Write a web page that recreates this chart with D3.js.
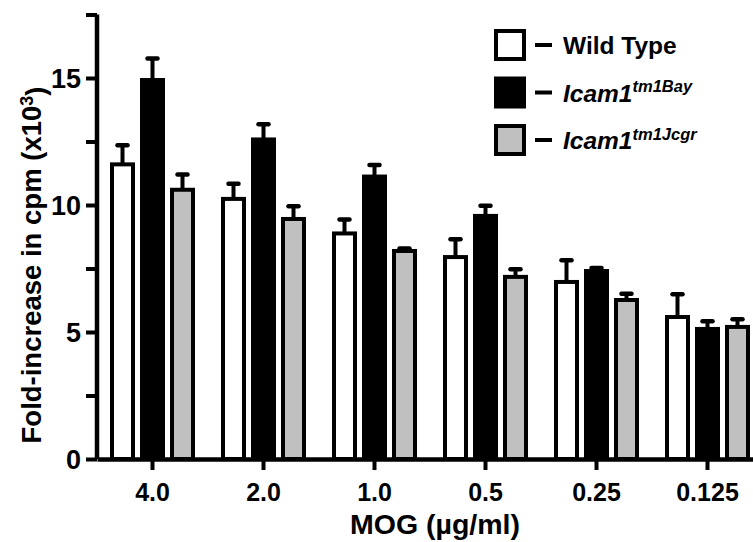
<!DOCTYPE html>
<html>
<head>
<meta charset="utf-8">
<script src="https://cdn.jsdelivr.net/npm/d3@7"></script>
<style>
  body { margin: 0; background: #fff; }
  svg text { font-family: "Liberation Sans", Arial, sans-serif; font-weight: bold; fill: #000; }
</style>
</head>
<body>
<div id="chart"></div>
<script>
// MOG concentration groups (x categories)
const doses = ["4.0", "2.0", "1.0", "0.5", "0.25", "0.125"];
const seriesNames = ["wt", "bay", "jcgr"];
const seriesFill = {wt: "#ffffff", bay: "#000000", jcgr: "#c0c0c0"};

// means (x10^3 cpm)
const wildType   = [11.6, 10.24, 8.88, 7.95, 6.97, 5.59];
const icamBay    = [14.92, 12.58, 11.12, 9.57, 7.4, 5.12];
const icamJcgr   = [10.6, 9.45, 8.19, 7.17, 6.26, 5.2];
// upper error (SEM)
const wildTypeErr = [0.75, 0.6, 0.55, 0.7, 0.85, 0.9];
const icamBayErr  = [0.85, 0.6, 0.45, 0.4, 0.12, 0.3];
const icamJcgrErr = [0.6, 0.5, 0.1, 0.3, 0.25, 0.3];

const yMajorTicks = [0, 5, 10, 15];
const yAllTicks = [0, 2.5, 5, 7.5, 10, 12.5, 15, 17.5];

const W = 753, H = 542;
const margin = {left: 97, top: 14.5, bottom: 83};

const svg = d3.select("#chart").append("svg")
  .attr("width", W).attr("height", H);

// build rows
const rows = doses.map((d, i) => ({
  dose: d,
  vals: [
    {key: "wt", v: wildType[i], e: wildTypeErr[i]},
    {key: "bay", v: icamBay[i], e: icamBayErr[i]},
    {key: "jcgr", v: icamJcgr[i], e: icamJcgrErr[i]}
  ]
}));

const x0 = d3.scaleBand().domain(doses).range([margin.left, margin.left + 666]);
const x1 = d3.scaleBand().domain(seriesNames).range([-40.5, 40.5]).paddingInner(0.3);
const y = d3.scaleLinear().domain([0, 17.5]).range([H - margin.bottom, margin.top]);

// bars
const groups = svg.selectAll(".grp").data(rows).enter().append("g")
  .attr("class", "grp")
  .attr("transform", d => "translate(" + (x0(d.dose) + x0.bandwidth() / 2) + ",0)");

// error bars (upper only) first so bars sit over the stems
groups.selectAll(".err").data(d => d.vals).enter().append("line")
  .attr("x1", d => x1(d.key) + x1.bandwidth() / 2)
  .attr("x2", d => x1(d.key) + x1.bandwidth() / 2)
  .attr("y1", d => y(d.v))
  .attr("y2", d => y(d.v + d.e))
  .attr("stroke", "#000").attr("stroke-width", 4);

groups.selectAll(".cap").data(d => d.vals).enter().append("line")
  .attr("x1", d => x1(d.key) + x1.bandwidth() / 2 - 5)
  .attr("x2", d => x1(d.key) + x1.bandwidth() / 2 + 5)
  .attr("y1", d => y(d.v + d.e))
  .attr("y2", d => y(d.v + d.e))
  .attr("stroke", "#000").attr("stroke-width", 4.5)
  .attr("stroke-linecap", "round");

groups.selectAll(".bar").data(d => d.vals).enter().append("rect")
  .attr("x", d => x1(d.key))
  .attr("width", x1.bandwidth())
  .attr("y", d => y(d.v))
  .attr("height", d => y(0) - y(d.v))
  .attr("fill", d => seriesFill[d.key])
  .attr("stroke", "#000").attr("stroke-width", 4);

// y axis
const yAxis = d3.axisLeft(y).tickValues(yAllTicks).tickSize(11).tickPadding(5)
  .tickFormat(d => yMajorTicks.includes(d) ? d : "");
const gy = svg.append("g").attr("transform", "translate(" + margin.left + ",0)").call(yAxis);
gy.select(".domain").attr("d", "M0," + y(17.5) + "V" + y(0)).attr("stroke-width", 4.5);
gy.selectAll(".tick line").attr("stroke-width", 4);
gy.selectAll(".tick text").style("font-size", "27px").attr("dy", "0.36em");

// x axis
const xAxis = d3.axisBottom(x0).tickSize(11).tickPadding(13).tickSizeOuter(0);
const gx = svg.append("g").attr("transform", "translate(0," + y(0) + ")").call(xAxis);
gx.select(".domain").attr("stroke-width", 4.5);
gx.selectAll(".tick line").attr("stroke-width", 4);
gx.selectAll(".tick text").style("font-size", "25px");

// axis titles
svg.append("text")
  .attr("transform", "translate(41,265) rotate(-90)")
  .attr("text-anchor", "middle")
  .style("font-size", "27.5px")
  .text("Fold-increase in cpm (x10")
  .append("tspan").attr("dy", "-0.45em").style("font-size", "18px").text("3")
  .select(function() { return this.parentNode; })
  .append("tspan").attr("dy", "0.45em").text(")");

svg.append("text")
  .attr("x", 435).attr("y", 534)
  .attr("text-anchor", "middle")
  .style("font-size", "28.5px")
  .text("MOG (\u00b5g/ml)");

// legend
const legendItems = [
  {key: "wt", name: "Wild Type", sup: null},
  {key: "bay", name: "Icam1", sup: "tm1Bay"},
  {key: "jcgr", name: "Icam1", sup: "tm1Jcgr"}
];
const lg = svg.selectAll(".lg").data(legendItems).enter().append("g")
  .attr("transform", (d, i) => "translate(0," + (45 + i * 47.5) + ")");
lg.append("rect").attr("x", 496).attr("y", -14).attr("width", 28).attr("height", 28)
  .attr("fill", d => seriesFill[d.key]).attr("stroke", "#000").attr("stroke-width", 4);
lg.append("line").attr("x1", 535).attr("x2", 552).attr("y1", 0).attr("y2", 0)
  .attr("stroke", "#000").attr("stroke-width", 4);
const lt = lg.append("text").attr("x", 563).attr("y", 9).style("font-size", "24.5px")
  .style("font-style", d => d.sup ? "italic" : "normal")
  .text(d => d.name);
lt.filter(d => d.sup).append("tspan").attr("dy", "-0.55em").style("font-size", "16.5px").text(d => d.sup);
</script>
</body>
</html>
